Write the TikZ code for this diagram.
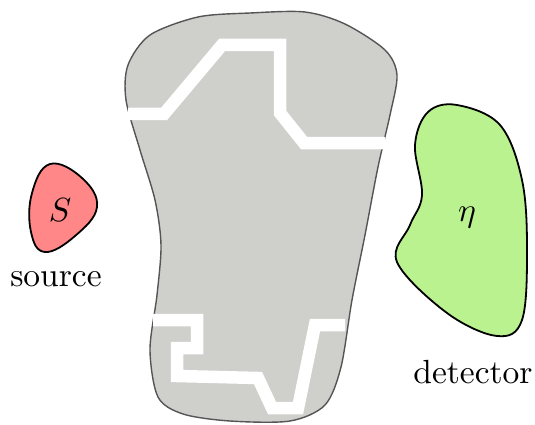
\documentclass[tikz,border=0pt]{standalone}
\definecolor{blobgray}{RGB}{207,207,203}
\definecolor{edgegray}{RGB}{85,85,85}
\definecolor{srcred}{RGB}{255,135,135}
\definecolor{detgreen}{RGB}{186,242,143}
\begin{document}
\begin{tikzpicture}[x=1pt,y=-1pt,
  lbl/.style={scale=3.35, inner sep=0pt},
  channel/.style={white, line width=12.5pt, line join=miter},
  blob/.style={draw=black, line width=1.8pt}]
\useasboundingbox (0,0) rectangle (535,425);
% medium
\draw[fill=blobgray, draw=edgegray, line width=1.4pt] plot[smooth cycle, tension=0.5] coordinates {
 (250,13) (305,12) (345,24) (385,50) (397,75) (390,115) (378,167) (365,235) (352,300) (341,367)
 (325,405) (290,421) (230,421) (183,414) (158,397) (150,350) (157,295) (161,245) (155,200)
 (140,150) (126,100) (128,65) (150,35) (198,17)};
\draw[channel] (128,114) -- (164,114) -- (222,45) -- (280,45) -- (280,113) -- (304,143) -- (385,143);
\draw[channel] (153,320) -- (197,320) -- (197,348) -- (177,348) -- (177,376) -- (258,378) -- (272,408) -- (298,408) -- (315,325) -- (345,325);
% source
\draw[blob, fill=srcred] plot[smooth cycle, tension=0.7] coordinates {
 (50,164) (82,178) (97,207) (75,236) (45,252) (31,232) (32,193)};
\node[lbl] (S) at (60,210) {$S$};
\node[lbl] (src) at (56,279) {source};
% detector
\draw[blob, fill=detgreen] plot[smooth cycle, tension=0.6] coordinates {
 (457,105) (500,125) (522,180) (527,250) (522,320) (497,336) (447,313) (397,262) (410,225)
 (422,195) (415,145) (428,112)};
\node[lbl] (eta) at (467,218) {$\eta$};
\node[lbl] (det) at (473,372) {detector};
\end{tikzpicture}
\end{document}
